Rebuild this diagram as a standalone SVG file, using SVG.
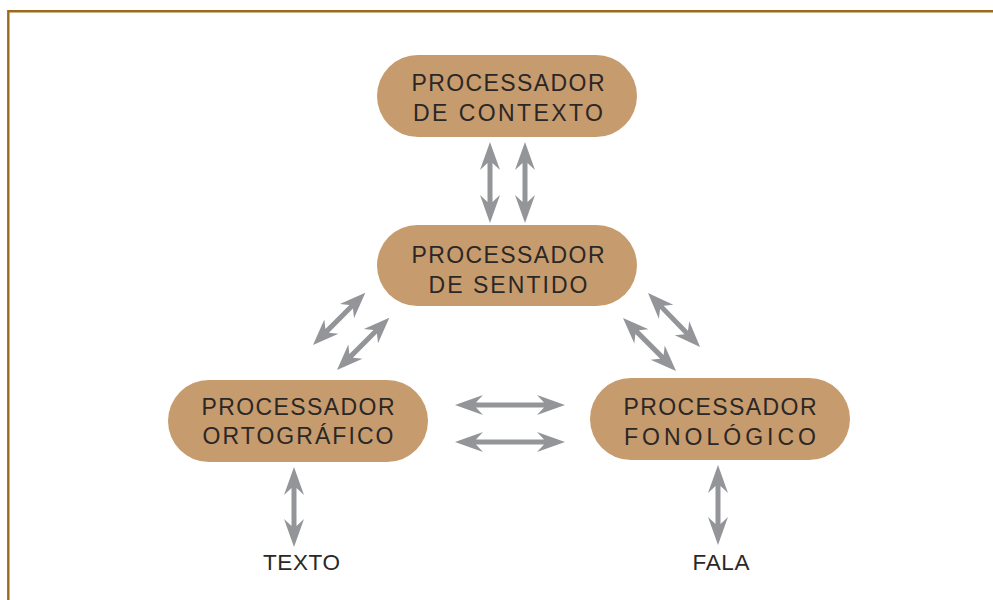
<svg xmlns="http://www.w3.org/2000/svg" width="993" height="600" viewBox="0 0 993 600">
<style>
.node{fill:#c69b6d}
.lbl{font-family:"Liberation Sans","DejaVu Sans",sans-serif;font-size:23px;fill:#2b2726;text-anchor:middle}
.io{font-family:"Liberation Sans","DejaVu Sans",sans-serif;font-size:22.5px;fill:#2b2726;text-anchor:middle}
.arr{fill:#939598}
</style>
<rect width="993" height="600" fill="#ffffff"/>
<path d="M8.3,600 V11.2 H993" fill="none" stroke="#9a6a1f" stroke-width="2.4"/>

<g id="connectors">
  <path class="arr" transform="translate(490,142) rotate(90)" d="M0,0 L28,-10 L21,-2.5 L60,-2.5 L53,-10 L81,0 L53,10 L60,2.5 L21,2.5 L28,10 Z"/>
  <path class="arr" transform="translate(525,142) rotate(90)" d="M0,0 L28,-10 L21,-2.5 L60,-2.5 L53,-10 L81,0 L53,10 L60,2.5 L21,2.5 L28,10 Z"/>
  <path class="arr" transform="translate(455,405)" d="M0,0 L28,-10 L21,-2.5 L89,-2.5 L82,-10 L110,0 L82,10 L89,2.5 L21,2.5 L28,10 Z"/>
  <path class="arr" transform="translate(455,442)" d="M0,0 L28,-10 L21,-2.5 L89,-2.5 L82,-10 L110,0 L82,10 L89,2.5 L21,2.5 L28,10 Z"/>
  <path class="arr" transform="translate(294,467) rotate(90)" d="M0,0 L28,-10 L21,-2.5 L59,-2.5 L52,-10 L80,0 L52,10 L59,2.5 L21,2.5 L28,10 Z"/>
  <path class="arr" transform="translate(718,465) rotate(90)" d="M0,0 L28,-10 L21,-2.5 L59,-2.5 L52,-10 L80,0 L52,10 L59,2.5 L21,2.5 L28,10 Z"/>
  <path class="arr" transform="translate(313,345) rotate(-45)" d="M0,0 L26,-10 L20,-2.5 L54,-2.5 L48,-10 L74,0 L48,10 L54,2.5 L20,2.5 L26,10 Z"/>
  <path class="arr" transform="translate(337,370) rotate(-45)" d="M0,0 L26,-10 L20,-2.5 L54,-2.5 L48,-10 L74,0 L48,10 L54,2.5 L20,2.5 L26,10 Z"/>
  <path class="arr" transform="translate(648,293) rotate(46)" d="M0,0 L26,-10 L20,-2.5 L55,-2.5 L49,-10 L75,0 L49,10 L55,2.5 L20,2.5 L26,10 Z"/>
  <path class="arr" transform="translate(623,318) rotate(45)" d="M0,0 L26,-10 L20,-2.5 L55,-2.5 L49,-10 L75,0 L49,10 L55,2.5 L20,2.5 L26,10 Z"/>
</g>

<g id="contexto">
  <rect class="node" x="377" y="55" width="260" height="82" rx="41"/>
  <text class="lbl" x="508" y="91" textLength="193" lengthAdjust="spacing">PROCESSADOR</text>
  <text class="lbl" x="508" y="121" textLength="190" lengthAdjust="spacing">DE CONTEXTO</text>
</g>
<g id="sentido">
  <rect class="node" x="377" y="225" width="260" height="81" rx="40.5"/>
  <text class="lbl" x="508" y="263" textLength="193" lengthAdjust="spacing">PROCESSADOR</text>
  <text class="lbl" x="508" y="293" textLength="159" lengthAdjust="spacing">DE SENTIDO</text>
</g>
<g id="ortografico">
  <rect class="node" x="168" y="380" width="260" height="82" rx="41"/>
  <text class="lbl" x="298" y="415" textLength="193" lengthAdjust="spacing">PROCESSADOR</text>
  <text class="lbl" x="298" y="444" textLength="191" lengthAdjust="spacing">ORTOGRÁFICO</text>
</g>
<g id="fonologico">
  <rect class="node" x="590" y="378" width="260" height="82" rx="41"/>
  <text class="lbl" x="720" y="415" textLength="193" lengthAdjust="spacing">PROCESSADOR</text>
  <text class="lbl" x="720" y="445" textLength="192" lengthAdjust="spacing">FONOLÓGICO</text>
</g>
<g id="texto">
  <text class="io" x="301.5" y="570" textLength="77" lengthAdjust="spacing">TEXTO</text>
</g>
<g id="fala">
  <text class="io" x="721" y="570" textLength="57" lengthAdjust="spacing">FALA</text>
</g>
</svg>
